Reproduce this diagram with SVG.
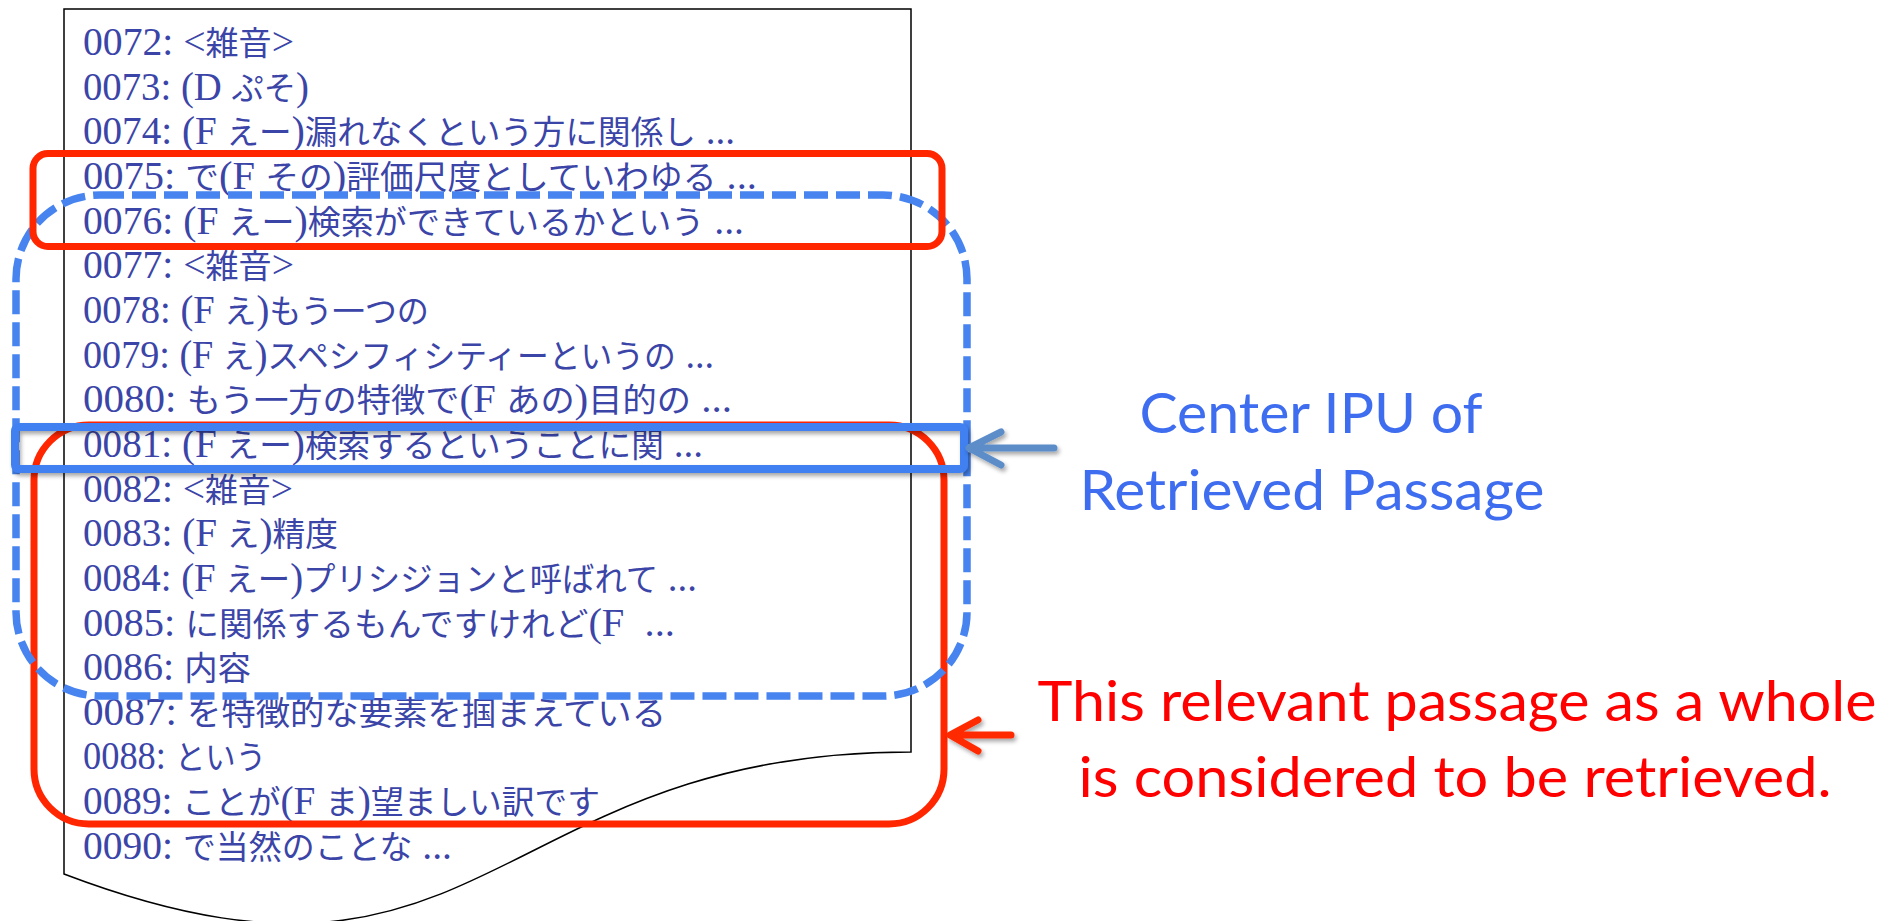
<svg xmlns="http://www.w3.org/2000/svg" width="1903" height="921" viewBox="0 0 1903 921">
<defs>
<style>
.t{font-family:"Liberation Serif","Noto Sans CJK JP",serif;font-size:39px;fill:#3B45A8;white-space:pre}
.j{font-family:"Noto Sans CJK JP",sans-serif;font-size:32.5px}
.lb{font-family:Lato,"Open Sans",sans-serif;font-size:57px;text-anchor:middle}
.blue{fill:#3E6DF0}
.red{fill:#FF0000}
.rbox{fill:none;stroke:#FF2600;stroke-width:7}
.bdash{fill:none;stroke:#4784F0;stroke-width:7.5;stroke-dasharray:24 8}
.bsolid{fill:none;stroke:#4180F0;stroke-width:8}
.arr{fill:none;stroke-width:7;stroke-linecap:round;stroke-linejoin:round}
</style>
<filter id="sh" x="-10%" y="-30%" width="130%" height="180%">
<feDropShadow dx="2" dy="3" stdDeviation="2" flood-color="#000" flood-opacity="0.35"/>
</filter>
</defs>
<rect width="1903" height="921" fill="#fff"/>
<g id="document">
<path d="M64,9 H911 V752 C487.5,752 487.5,1035 64,874 Z" fill="#fff" stroke="#000" stroke-width="1.5"/>
<text class="t" x="83" y="55" textLength="211" lengthAdjust="spacingAndGlyphs">0072: &lt;<tspan class="j">雑音</tspan>&gt;</text>
<text class="t" x="83" y="99.6" textLength="226" lengthAdjust="spacingAndGlyphs">0073: (D <tspan class="j">ぷそ</tspan>)</text>
<text class="t" x="83" y="144.3" textLength="652" lengthAdjust="spacingAndGlyphs">0074: (F <tspan class="j">えー</tspan>)<tspan class="j">漏れなくという方に関係し</tspan> ...</text>
<text class="t" x="83" y="189" textLength="674" lengthAdjust="spacingAndGlyphs">0075: <tspan class="j">で</tspan>(F <tspan class="j">その</tspan>)<tspan class="j">評価尺度としていわゆる</tspan> ...</text>
<text class="t" x="83" y="233.6" textLength="661" lengthAdjust="spacingAndGlyphs">0076: (F <tspan class="j">えー</tspan>)<tspan class="j">検索ができているかという</tspan> ...</text>
<text class="t" x="83" y="278.3" textLength="211" lengthAdjust="spacingAndGlyphs">0077: &lt;<tspan class="j">雑音</tspan>&gt;</text>
<text class="t" x="83" y="322.9" textLength="346" lengthAdjust="spacingAndGlyphs">0078: (F <tspan class="j">え</tspan>)<tspan class="j">もう一つの</tspan></text>
<text class="t" x="83" y="367.6" textLength="631" lengthAdjust="spacingAndGlyphs">0079: (F <tspan class="j">え</tspan>)<tspan class="j">スペシフィシティーというの</tspan> ...</text>
<text class="t" x="83" y="412.2" textLength="649" lengthAdjust="spacingAndGlyphs">0080: <tspan class="j">もう一方の特徴で</tspan>(F <tspan class="j">あの</tspan>)<tspan class="j">目的の</tspan> ...</text>
<text class="t" x="83" y="456.9" textLength="620" lengthAdjust="spacingAndGlyphs">0081: (F <tspan class="j">えー</tspan>)<tspan class="j">検索するということに関</tspan> ...</text>
<text class="t" x="83" y="501.5" textLength="210" lengthAdjust="spacingAndGlyphs">0082: &lt;<tspan class="j">雑音</tspan>&gt;</text>
<text class="t" x="83" y="546.2" textLength="255" lengthAdjust="spacingAndGlyphs">0083: (F <tspan class="j">え</tspan>)<tspan class="j">精度</tspan></text>
<text class="t" x="83" y="590.8" textLength="614" lengthAdjust="spacingAndGlyphs">0084: (F <tspan class="j">えー</tspan>)<tspan class="j">プリシジョンと呼ばれて</tspan> ...</text>
<text class="t" x="83" y="635.5" textLength="592" lengthAdjust="spacingAndGlyphs">0085: <tspan class="j">に関係するもんですけれど</tspan>(F  ...</text>
<text class="t" x="83" y="680.1" textLength="168" lengthAdjust="spacingAndGlyphs">0086: <tspan class="j">内容</tspan></text>
<text class="t" x="83" y="724.8" textLength="583" lengthAdjust="spacingAndGlyphs">0087: <tspan class="j">を特徴的な要素を掴まえている</tspan></text>
<text class="t" x="83" y="769.4" textLength="183" lengthAdjust="spacingAndGlyphs">0088: <tspan class="j">という</tspan></text>
<text class="t" x="83" y="814.1" textLength="517" lengthAdjust="spacingAndGlyphs">0089: <tspan class="j">ことが</tspan>(F <tspan class="j">ま</tspan>)<tspan class="j">望ましい訳です</tspan></text>
<text class="t" x="83" y="858.7" textLength="369" lengthAdjust="spacingAndGlyphs">0090: <tspan class="j">で当然のことな</tspan> ...</text>
</g>
<g id="relevant-passage">
<rect class="rbox" x="34" y="425" width="910" height="399" rx="55"/>
</g>
<g id="retrieved-passage">
<rect class="bdash" x="16" y="195" width="951" height="501" rx="84"/>
</g>
<g id="relevant-0075-0076">
<rect class="rbox" x="33" y="153.5" width="909" height="93" rx="15"/>
</g>
<g id="center-ipu">
<rect class="bsolid" x="15" y="427" width="949" height="42" rx="4" filter="url(#sh)"/>
</g>
<g id="connectors">
<g filter="url(#sh)">
<path class="arr" stroke="#5B8DC9" d="M1054,448 H971 M1001,432 L969,448 L1001,465"/>
</g>
<g filter="url(#sh)">
<path class="arr" stroke="#FF2A00" d="M1011,735 H952 M978,720 L950,735 L978,751"/>
</g>
</g>
<g id="label-center">
<text class="lb blue" x="1311" y="433" textLength="343" lengthAdjust="spacingAndGlyphs">Center IPU of</text>
<text class="lb blue" x="1312" y="510" textLength="465" lengthAdjust="spacingAndGlyphs">Retrieved Passage</text>
</g>
<g id="label-relevant">
<text class="lb red" x="1457" y="721" textLength="839" lengthAdjust="spacingAndGlyphs">This relevant passage as a whole</text>
<text class="lb red" x="1455" y="797" textLength="753" lengthAdjust="spacingAndGlyphs">is considered to be retrieved.</text>
</g>
</svg>
